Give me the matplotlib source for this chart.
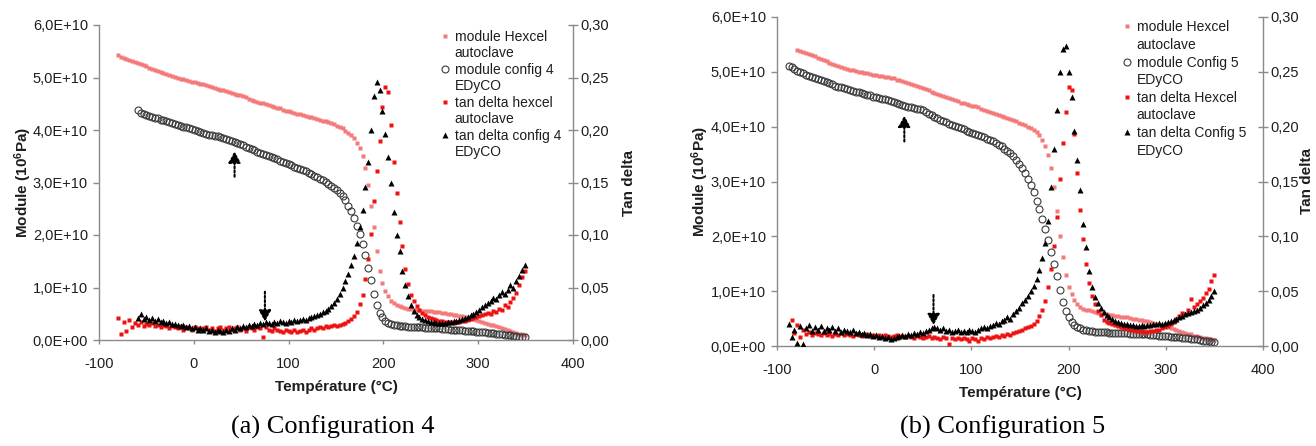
import numpy as np
import matplotlib
matplotlib.use("Agg")
import matplotlib.pyplot as plt
from matplotlib.lines import Line2D
from matplotlib.ticker import FuncFormatter

plt.rcParams['font.family'] = ['Liberation Sans', 'DejaVu Sans']
plt.rcParams['mathtext.fontset'] = 'custom'
plt.rcParams['mathtext.rm'] = 'Liberation Sans:bold'
plt.rcParams['mathtext.it'] = 'Liberation Sans:bold'
plt.rcParams['mathtext.bf'] = 'Liberation Sans:bold'
plt.rcParams['axes.unicode_minus'] = False

# DMA sampling step (°C) shared by every series
STEP = 3

# ---------------- (a) Configuration 4 ----------------
# storage modulus in units of 1E+10 Pa, tan delta dimensionless
start_mod_hexcel_a = -80
mod_hexcel_a = [
    5.43, 5.40, 5.37, 5.35, 5.33, 5.31, 5.29, 5.27, 5.25, 5.23,
    5.21, 5.18, 5.16, 5.14, 5.12, 5.10, 5.09, 5.07, 5.05, 5.03,
    5.01, 5.00, 4.98, 4.97, 4.95, 4.94, 4.92, 4.91, 4.90, 4.88,
    4.87, 4.85, 4.84, 4.82, 4.80, 4.79, 4.77, 4.76, 4.74, 4.73,
    4.71, 4.69, 4.67, 4.66, 4.64, 4.62, 4.60, 4.58, 4.56, 4.54,
    4.52, 4.51, 4.49, 4.47, 4.45, 4.43, 4.42, 4.41, 4.39, 4.37,
    4.36, 4.34, 4.33, 4.31, 4.30, 4.28, 4.27, 4.25, 4.24, 4.22,
    4.21, 4.20, 4.18, 4.17, 4.15, 4.13, 4.11, 4.08, 4.06, 4.03,
    3.99, 3.95, 3.90, 3.84, 3.76, 3.66, 3.50, 3.28, 2.95, 2.55,
    2.15, 1.70, 1.32, 1.08, 0.93, 0.83, 0.75, 0.70, 0.66, 0.64,
    0.62, 0.61, 0.60, 0.59, 0.58, 0.57, 0.57, 0.56, 0.56, 0.55,
    0.55, 0.54, 0.53, 0.53, 0.52, 0.51, 0.50, 0.49, 0.48, 0.47,
    0.46, 0.45, 0.44, 0.43, 0.42, 0.40, 0.38, 0.36, 0.34, 0.32,
    0.31, 0.29, 0.28, 0.26, 0.24, 0.23, 0.21, 0.19, 0.18, 0.16,
    0.14, 0.12, 0.11, 0.09,
]

start_mod_cfg4 = -59
mod_cfg4 = [
    4.38, 4.33, 4.30,
    4.28, 4.26, 4.24, 4.23, 4.22, 4.20, 4.19, 4.17, 4.15, 4.13,
    4.11, 4.10, 4.08, 4.06, 4.05, 4.03, 4.01, 4.00, 3.98, 3.96,
    3.94, 3.93, 3.91, 3.90, 3.89, 3.88, 3.87, 3.85, 3.83, 3.81,
    3.79, 3.77, 3.75, 3.73, 3.71, 3.68, 3.66, 3.64, 3.62, 3.59,
    3.57, 3.55, 3.53, 3.51, 3.49, 3.46, 3.44, 3.41, 3.39, 3.37,
    3.35, 3.33, 3.30, 3.28, 3.26, 3.24, 3.21, 3.19, 3.16, 3.13,
    3.10, 3.07, 3.04, 3.01, 2.98, 2.94, 2.90, 2.86, 2.80, 2.74,
    2.66, 2.56, 2.45, 2.32, 2.18, 2.02, 1.83, 1.62, 1.38, 1.14,
    0.88, 0.67, 0.52, 0.43, 0.37, 0.33, 0.31, 0.29, 0.28, 0.27,
    0.26, 0.26, 0.25, 0.25, 0.25, 0.24, 0.24, 0.24, 0.23, 0.23,
    0.23, 0.22, 0.22, 0.22, 0.21, 0.21, 0.21, 0.20, 0.20, 0.20,
    0.19, 0.19, 0.18, 0.18, 0.17, 0.17, 0.16, 0.16, 0.15, 0.15,
    0.14, 0.13, 0.13, 0.12, 0.11, 0.11, 0.10, 0.09, 0.09, 0.08,
    0.07, 0.06, 0.06, 0.05,
]

start_tan_hexcel_a = -80
tan_hexcel_a = [
    0.021, 0.006, 0.017, 0.009, 0.019, 0.012, 0.016, 0.014, 0.017, 0.013,
    0.015, 0.014, 0.016, 0.013, 0.014, 0.012, 0.014, 0.013, 0.011, 0.013,
    0.012, 0.011, 0.013, 0.010, 0.012, 0.011, 0.010, 0.012, 0.011, 0.010,
    0.011, 0.012, 0.010, 0.011, 0.009, 0.011, 0.012, 0.010, 0.011, 0.012,
    0.010, 0.011, 0.012, 0.010, 0.011, 0.009, 0.012, 0.011, 0.010, 0.012,
    0.011, 0.003, 0.012, 0.010, 0.009, 0.011, 0.010, 0.009, 0.008, 0.010,
    0.009, 0.008, 0.010, 0.008, 0.009, 0.010, 0.008, 0.010, 0.011, 0.010,
    0.011, 0.012, 0.011, 0.013, 0.012, 0.013, 0.014, 0.013, 0.014, 0.015,
    0.016, 0.018, 0.020, 0.023, 0.027, 0.034, 0.043, 0.058, 0.077, 0.101,
    0.132, 0.161, 0.190, 0.222, 0.241, 0.236, 0.205, 0.170, 0.140, 0.112,
    0.090, 0.068, 0.053, 0.043, 0.037, 0.032, 0.029, 0.026, 0.024, 0.022,
    0.021, 0.020, 0.019, 0.018, 0.018, 0.017, 0.017, 0.017, 0.016, 0.017,
    0.017, 0.018, 0.018, 0.019, 0.020, 0.021, 0.022, 0.023, 0.024, 0.025,
    0.026, 0.025, 0.028, 0.027, 0.030, 0.029, 0.033, 0.031, 0.036, 0.040,
    0.045, 0.052, 0.060, 0.066,
]

start_tan_cfg4 = -59
tan_cfg4 = [
    0.021, 0.025, 0.020,
    0.022, 0.019, 0.021, 0.018, 0.020, 0.017, 0.018, 0.016, 0.017, 0.015,
    0.015, 0.014, 0.013, 0.014, 0.012, 0.013, 0.011, 0.012, 0.010, 0.011,
    0.010, 0.011, 0.009, 0.010, 0.008, 0.010, 0.009, 0.008, 0.010, 0.009,
    0.011, 0.010, 0.012, 0.011, 0.013, 0.012, 0.014, 0.013, 0.015, 0.014,
    0.016, 0.015, 0.017, 0.016, 0.015, 0.017, 0.016, 0.018, 0.017, 0.016,
    0.018, 0.017, 0.019, 0.018, 0.019, 0.020, 0.019, 0.021, 0.022, 0.023,
    0.024, 0.025, 0.027, 0.028, 0.030, 0.032, 0.035, 0.039, 0.044, 0.050,
    0.056, 0.063, 0.071, 0.080, 0.092, 0.108, 0.124, 0.146, 0.170, 0.200,
    0.232, 0.246, 0.238, 0.218, 0.196, 0.174, 0.150, 0.122, 0.100, 0.085,
    0.066, 0.052, 0.042, 0.033, 0.028, 0.024, 0.022, 0.020, 0.019, 0.018,
    0.017, 0.017, 0.016, 0.016, 0.016, 0.016, 0.017, 0.017, 0.018, 0.018,
    0.019, 0.020, 0.021, 0.022, 0.024, 0.025, 0.027, 0.029, 0.031, 0.033,
    0.035, 0.037, 0.040, 0.039, 0.043, 0.046, 0.044, 0.048, 0.052, 0.050,
    0.056, 0.061, 0.067, 0.071,
]

# ---------------- (b) Configuration 5 ----------------
start_mod_hexcel_b = -79
mod_hexcel_b = [
    5.40, 5.38, 5.36, 5.34, 5.32, 5.30, 5.28,
    5.25, 5.23, 5.21, 5.19, 5.17, 5.15, 5.13, 5.11, 5.09, 5.07,
    5.06, 5.04, 5.03, 5.01, 5.00, 4.99, 4.98, 4.97, 4.96, 4.95,
    4.94, 4.93, 4.92, 4.91, 4.90, 4.89, 4.88, 4.86, 4.85, 4.83,
    4.82, 4.80, 4.78, 4.76, 4.74, 4.72, 4.70, 4.68, 4.66, 4.64,
    4.62, 4.60, 4.58, 4.56, 4.54, 4.52, 4.50, 4.48, 4.46, 4.44,
    4.43, 4.42, 4.40, 4.38, 4.37, 4.35, 4.33, 4.31, 4.29, 4.27,
    4.25, 4.23, 4.22, 4.20, 4.18, 4.16, 4.14, 4.12, 4.10, 4.07,
    4.05, 4.03, 4.00, 3.98, 3.94, 3.90, 3.84, 3.76, 3.65, 3.49,
    3.24, 2.90, 2.46, 2.00, 1.62, 1.30, 1.08, 0.94, 0.84, 0.76,
    0.71, 0.68, 0.66, 0.65, 0.63, 0.62, 0.61, 0.60, 0.59, 0.58,
    0.57, 0.56, 0.55, 0.54, 0.53, 0.53, 0.52, 0.51, 0.50, 0.49,
    0.48, 0.47, 0.46, 0.45, 0.44, 0.42, 0.41, 0.39, 0.37, 0.36,
    0.34, 0.32, 0.31, 0.29, 0.27, 0.26, 0.24, 0.22, 0.21, 0.19,
    0.18, 0.16, 0.15, 0.14, 0.13, 0.12, 0.11,
]

start_mod_cfg5 = -88
mod_cfg5 = [
    5.10, 5.08, 5.05, 5.02, 5.00, 4.97, 4.95, 4.93, 4.91, 4.89,
    4.87, 4.85, 4.83, 4.81, 4.79, 4.77, 4.75, 4.73, 4.72, 4.70,
    4.68, 4.67, 4.65, 4.64, 4.63, 4.61, 4.60, 4.58, 4.57, 4.55,
    4.54, 4.52, 4.51, 4.50, 4.48, 4.47, 4.45, 4.44, 4.42, 4.40,
    4.38, 4.36, 4.35, 4.34, 4.33, 4.32, 4.30, 4.27, 4.24, 4.21,
    4.18, 4.16, 4.13, 4.10, 4.08, 4.05, 4.03, 4.01, 3.99, 3.97,
    3.95, 3.93, 3.91, 3.89, 3.87, 3.85, 3.83, 3.81, 3.78, 3.76,
    3.73, 3.70, 3.67, 3.64, 3.60, 3.56, 3.52, 3.46, 3.39, 3.32,
    3.24, 3.15, 3.05, 2.93, 2.80, 2.65, 2.49, 2.31, 2.13, 1.93,
    1.72, 1.50, 1.27, 1.03, 0.81, 0.64, 0.52, 0.44, 0.38, 0.34,
    0.32, 0.30, 0.29, 0.28, 0.27, 0.26, 0.26, 0.25, 0.25, 0.25,
    0.24, 0.24, 0.24, 0.23, 0.23, 0.23, 0.23, 0.22, 0.22, 0.22,
    0.22, 0.21, 0.21, 0.21, 0.20, 0.20, 0.20, 0.19, 0.19, 0.18,
    0.18, 0.17, 0.17, 0.16, 0.16, 0.15, 0.15, 0.14, 0.13, 0.13,
    0.12, 0.11, 0.10, 0.10, 0.09, 0.08, 0.07,
]

start_tan_hexcel_b = -85
tan_hexcel_b = [
    0.024, 0.012, 0.019, 0.008, 0.015, 0.011, 0.013, 0.010, 0.012,
    0.011, 0.010, 0.012, 0.010, 0.011, 0.009, 0.011, 0.010, 0.012, 0.010,
    0.011, 0.010, 0.009, 0.011, 0.010, 0.009, 0.010, 0.011, 0.009, 0.010,
    0.009, 0.010, 0.008, 0.010, 0.009, 0.008, 0.009, 0.010, 0.008, 0.009,
    0.008, 0.009, 0.008, 0.007, 0.009, 0.008, 0.007, 0.008, 0.009, 0.007,
    0.008, 0.007, 0.006, 0.008, 0.007, 0.002, 0.007, 0.006, 0.007, 0.006,
    0.007, 0.006, 0.005, 0.007, 0.006, 0.005, 0.007, 0.006, 0.008, 0.007,
    0.008, 0.009, 0.008, 0.010, 0.009, 0.011, 0.010, 0.012, 0.013, 0.014,
    0.015, 0.016, 0.017, 0.018, 0.020, 0.023, 0.027, 0.033, 0.041, 0.054,
    0.070, 0.091, 0.118, 0.152, 0.185, 0.213, 0.236, 0.233, 0.193, 0.158,
    0.124, 0.098, 0.075, 0.057, 0.046, 0.038, 0.032, 0.028, 0.024, 0.022,
    0.021, 0.020, 0.019, 0.018, 0.017, 0.016, 0.016, 0.015, 0.015, 0.014,
    0.014, 0.014, 0.013, 0.013, 0.014, 0.014, 0.015, 0.015, 0.016, 0.017,
    0.018, 0.020, 0.022, 0.025, 0.027, 0.030, 0.029, 0.033, 0.043, 0.036,
    0.038, 0.041, 0.044, 0.048, 0.052, 0.059, 0.065,
]

start_tan_cfg5 = -88
tan_cfg5 = [
    0.020, 0.008, 0.015, 0.003, 0.018, 0.002, 0.016, 0.019, 0.014, 0.017,
    0.015, 0.018, 0.014, 0.016, 0.015, 0.017, 0.014, 0.016, 0.013, 0.015,
    0.014, 0.013, 0.015, 0.012, 0.013, 0.011, 0.012, 0.010, 0.011, 0.009,
    0.010, 0.008, 0.009, 0.007, 0.008, 0.006, 0.007, 0.008, 0.009, 0.010,
    0.009, 0.011, 0.010, 0.012, 0.011, 0.013, 0.012, 0.014, 0.015, 0.016,
    0.017, 0.016, 0.015, 0.016, 0.014, 0.015, 0.013, 0.014, 0.015, 0.013,
    0.014, 0.013, 0.015, 0.014, 0.013, 0.015, 0.016, 0.017, 0.016, 0.018,
    0.019, 0.021, 0.020, 0.023, 0.024, 0.026, 0.025, 0.029, 0.032, 0.035,
    0.039, 0.042, 0.046, 0.050, 0.055, 0.061, 0.069, 0.080, 0.094, 0.114,
    0.145, 0.180, 0.215, 0.250, 0.271, 0.274, 0.250, 0.227, 0.196, 0.170,
    0.142, 0.111, 0.090, 0.068, 0.054, 0.045, 0.039, 0.035, 0.031, 0.028,
    0.026, 0.025, 0.023, 0.022, 0.021, 0.020, 0.020, 0.019, 0.019, 0.018,
    0.018, 0.019, 0.018, 0.019, 0.019, 0.020, 0.020, 0.021, 0.020, 0.021,
    0.022, 0.023, 0.024, 0.025, 0.026, 0.027, 0.029, 0.030, 0.031, 0.032,
    0.033, 0.035, 0.037, 0.039, 0.042, 0.046, 0.050,
]

# Dotted arrows: (temperature, tail modulus, head modulus) in 1E+10 Pa
arrows_a = [(43, 3.11, 3.59), (75, 0.92, 0.35)]
arrows_b = [(31, 3.73, 4.20), (61, 0.93, 0.38)]

labels_a = ['module Hexcel', 'autoclave', 'module config 4', 'EDyCO',
            'tan delta hexcel', 'autoclave', 'tan delta config 4', 'EDyCO']
labels_b = ['module Hexcel', 'autoclave', 'module Config 5', 'EDyCO',
            'tan delta Hexcel', 'autoclave', 'tan delta Config 5', 'EDyCO']

x_ticks = [-100, 0, 100, 200, 300, 400]
mod_ticks = [0, 1e10, 2e10, 3e10, 4e10, 5e10, 6e10]
tan_ticks = [0.0, 0.05, 0.10, 0.15, 0.20, 0.25, 0.30]

caption_a = '(a) Configuration 4'
caption_b = '(b) Configuration 5'

GRAY = '#8a8a8a'
TXT = '#1e1e1e'


def temps(start, values):
    return start + STEP * np.arange(len(values))


sci_fmt = FuncFormatter(lambda v, _: f"{v:.1E}".replace('.', ','))
tan_fmt = FuncFormatter(lambda v, _: f"{v:.2f}".replace('.', ','))

fig = plt.figure(figsize=(13.16, 4.46), dpi=100)


def panel(rect, mh, sh, mc, sc, th, sth, tc, stc, arrows, labels, anchor,
          labelspacing, ylabel_x, tan_x):
    ax = fig.add_axes(rect)
    ax2 = ax.twinx()

    h1, = ax.plot(temps(sh, mh), np.array(mh) * 1e10, ls='none', marker='s',
                  ms=2.6, color='#f27a7a', mec='none')
    h2, = ax.plot(temps(sc, mc), np.array(mc) * 1e10, ls='none', marker='o',
                  ms=5.0, mfc='none', mec='#3a3a3a', mew=0.8)
    h3, = ax2.plot(temps(sth, th), th, ls='none', marker='s', ms=3.4,
                   color='#ee1111', mec='none')
    h4, = ax2.plot(temps(stc, tc), tc, ls='none', marker='^', ms=4.2,
                   color='black', mec='none')

    ax.set_xlim(-100, 400)
    ax.set_ylim(0, 6e10)
    ax2.set_ylim(0, 0.30)
    ax.set_xticks(x_ticks)
    ax.set_yticks(mod_ticks)
    ax2.set_yticks(tan_ticks)
    ax.yaxis.set_major_formatter(sci_fmt)
    ax2.yaxis.set_major_formatter(tan_fmt)

    for a in (ax, ax2):
        a.spines['top'].set_visible(False)
    ax.spines['right'].set_visible(False)
    ax2.spines['left'].set_visible(False)
    ax2.spines['bottom'].set_visible(False)
    for sp in (ax.spines['left'], ax.spines['bottom'], ax2.spines['right']):
        sp.set_color(GRAY)
        sp.set_linewidth(1.0)

    ax.tick_params(axis='y', direction='out', length=4, width=1, color=GRAY,
                   labelsize=10.5, labelcolor=TXT, pad=4)
    ax.tick_params(axis='x', direction='out', length=3, width=1, color=GRAY,
                   labelsize=10.5, labelcolor=TXT, pad=9)
    ax2.tick_params(axis='y', direction='inout', length=7, width=1, color=GRAY,
                    labelsize=10.5, labelcolor=TXT, pad=2)

    ax.set_xlabel('Température (°C)', fontsize=11, fontweight='bold',
                  color=TXT, labelpad=7)
    ax.set_ylabel('Module (10$^{6}$Pa)', fontsize=11, fontweight='bold',
                  color=TXT)
    ax.yaxis.set_label_coords(ylabel_x, 0.5)
    ax2.set_ylabel('Tan delta', fontsize=11, fontweight='bold', color=TXT)
    ax2.yaxis.set_label_coords(tan_x, 0.5)

    for t, tail, head in arrows:
        ax.annotate('', xy=(t, head * 1e10), xytext=(t, tail * 1e10),
                    arrowprops=dict(arrowstyle='-|>,head_length=0.55,head_width=0.3',
                                    linestyle=(0, (1, 1)), lw=1.5, color='black',
                                    shrinkA=0, shrinkB=0, mutation_scale=12),
                    zorder=5)

    blank = Line2D([], [], ls='none', marker='')
    handles = [h1, blank, h2, blank, h3, blank, h4, blank]
    leg = ax2.legend(handles, labels, loc='upper left', bbox_to_anchor=anchor,
                     frameon=False, fontsize=10, handlelength=0.7,
                     handletextpad=0.35, labelspacing=labelspacing,
                     borderpad=0, borderaxespad=0, numpoints=1)
    for txt in leg.get_texts():
        txt.set_color(TXT)
    return ax, ax2


panel([99 / 1316, 106 / 446, 474 / 1316, 315 / 446],
      mod_hexcel_a, start_mod_hexcel_a, mod_cfg4, start_mod_cfg4,
      tan_hexcel_a, start_tan_hexcel_a, tan_cfg4, start_tan_cfg4,
      arrows_a, labels_a, (0.72, 0.985), 0.18, -0.137, 1.104)

panel([777 / 1316, 100 / 446, 486 / 1316, 329 / 446],
      mod_hexcel_b, start_mod_hexcel_b, mod_cfg5, start_mod_cfg5,
      tan_hexcel_b, start_tan_hexcel_b, tan_cfg5, start_tan_cfg5,
      arrows_b, labels_b, (0.71, 0.99), 0.26, -0.135, 1.077)

fig.text(333 / 1316, 1 - 427 / 446, caption_a, ha='center', va='center',
         fontsize=19, family='Liberation Serif', color='black')
fig.text(1003 / 1316, 1 - 427 / 446, caption_b, ha='center', va='center',
         fontsize=19, family='Liberation Serif', color='black')

fig.savefig('out.png', dpi=100)
